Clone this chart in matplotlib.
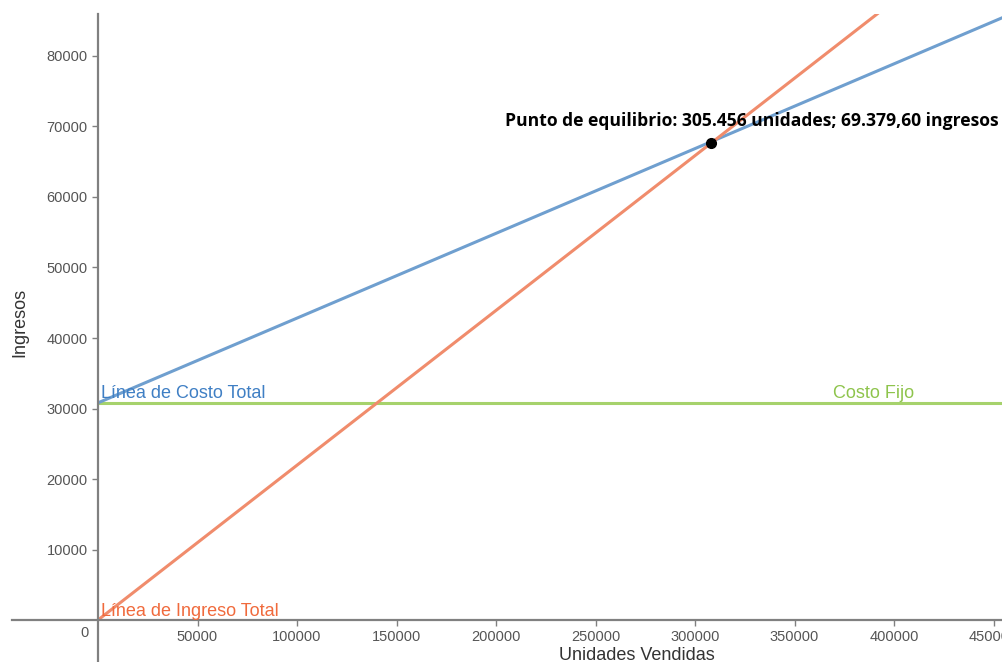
import matplotlib
matplotlib.use("Agg")
import matplotlib.pyplot as plt

# datos
unidades = [0, 455000]
costo_fijo = [30800, 30800]
costo_total = [30800, 85500]
ingreso_total = [0, 99900]
equilibrio_x = 307800
equilibrio_y = 67700
xticks = [50000, 100000, 150000, 200000, 250000, 300000, 350000, 400000, 450000]
yticks = [10000, 20000, 30000, 40000, 50000, 60000, 70000, 80000]

plt.rcParams['font.family'] = ['Liberation Sans', 'DejaVu Sans']

fig = plt.figure(figsize=(10.02, 6.62), dpi=100)
ax = fig.add_axes([12 / 1002, 0, 990 / 1002, 648 / 662])
ax.set_xlim(-43215, 454260)
ax.set_ylim(-5957, 85957)

blue = '#6f9fcf'
orange = '#f08c6c'
green = '#a6d26c'

ax.plot(unidades, costo_fijo, color=green, lw=2.2, solid_capstyle='butt')
ax.plot(unidades, costo_total, color=blue, lw=2.2, solid_capstyle='butt')
ax.plot(unidades, ingreso_total, color=orange, lw=2.2, solid_capstyle='butt')
ax.plot([equilibrio_x], [equilibrio_y], 'o', color='black', ms=7, zorder=5)

ax.text(1500, 30950, 'Línea de Costo Total', color='#3f7fc4', fontsize=13,
        ha='left', va='bottom')
ax.text(1500, -50, 'Línea de Ingreso Total', color='#f06a3c', fontsize=13,
        ha='left', va='bottom')
ax.text(369500, 30950, 'Costo Fijo', color='#8ec44c', fontsize=13,
        ha='left', va='bottom')
ax.text(328600, 70780, 'Punto de equilibrio: 305.456 unidades; 69.379,60 ingresos',
        fontsize=12.65, fontweight='bold', family=['Open Sans', 'DejaVu Sans'],
        ha='center', va='center', color='black')

for s in ['top', 'right']:
    ax.spines[s].set_visible(False)
ax.spines['left'].set_position(('data', 0))
ax.spines['bottom'].set_position(('data', 0))
for s in ['left', 'bottom']:
    ax.spines[s].set_color('#808080')
    ax.spines[s].set_linewidth(1.6)

ax.set_xticks(xticks)
ax.set_yticks(yticks)
ax.tick_params(colors='#808080', labelcolor='#555555', labelsize=10.5, length=4, width=1)
ax.text(-7000, -1900, '0', color='#555555', fontsize=10.5, ha='center', va='center')

fig.text(637 / 1002, 1 - 655 / 662, 'Unidades Vendidas', fontsize=13, color='#333333',
         ha='center', va='center')
fig.text(20 / 1002, 1 - 322 / 662, 'Ingresos', fontsize=13, color='#333333',
         ha='center', va='center', rotation=90)

fig.savefig('out.png', dpi=100)
